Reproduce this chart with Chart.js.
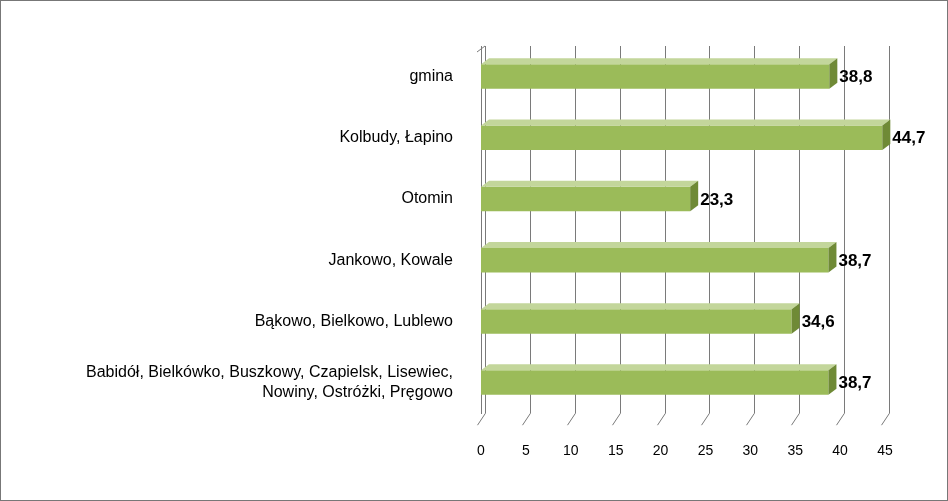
<!DOCTYPE html>
<html><head><meta charset="utf-8">
<script src="https://cdn.jsdelivr.net/npm/chart.js@4"></script>
<style>
body{margin:0;background:#fff}
#wrap{width:946px;height:499px;border:1px solid #777}
</style></head>
<body><div id="wrap"><canvas id="c" width="946" height="499"></canvas></div>
<script>
const labels = ['gmina', 'Kolbudy, Łapino', 'Otomin', 'Jankowo, Kowale', 'Bąkowo, Bielkowo, Lublewo',
  ['Babidół, Bielkówko, Buszkowy, Czapielsk, Lisewiec,', 'Nowiny, Ostróżki, Pręgowo']];
const values = [38.8, 44.7, 23.3, 38.7, 34.6, 38.7];
const shown = ['38,8', '44,7', '23,3', '38,7', '34,6', '38,7'];

const DX = 8, DY = -6;

const threeD = {
  id: 'threeD',
  beforeDatasetsDraw(chart) {
    const {ctx, chartArea: a, scales: {x}} = chart;
    ctx.save();
    ctx.strokeStyle = '#7a7a7a';
    ctx.lineWidth = 1;
    for (let v = 0; v <= 45; v += 5) {
      const px = Math.round(x.getPixelForValue(v)) + 0.5;
      ctx.beginPath();
      ctx.moveTo(px - DX / 2, a.bottom + 12);
      ctx.lineTo(px + DX / 2, a.bottom);
      ctx.lineTo(px + DX / 2, a.top);
      ctx.stroke();
    }
    ctx.beginPath();
    ctx.moveTo(a.left - DX / 2, a.top + 6);
    ctx.lineTo(a.left + DX / 2, a.top);
    ctx.stroke();
    ctx.restore();
  },
  afterDatasetsDraw(chart) {
    const {ctx} = chart;
    const meta = chart.getDatasetMeta(0);
    ctx.save();
    meta.data.forEach((b, i) => {
      const l = b.base, r = b.x, t = b.y - b.height / 2, bt = b.y + b.height / 2;
      ctx.fillStyle = '#c3d69b';
      ctx.beginPath();
      ctx.moveTo(l, t); ctx.lineTo(l + DX, t + DY); ctx.lineTo(r + DX, t + DY); ctx.lineTo(r, t);
      ctx.closePath(); ctx.fill();
      ctx.fillStyle = '#6f8a36';
      ctx.beginPath();
      ctx.moveTo(r, t); ctx.lineTo(r + DX, t + DY); ctx.lineTo(r + DX, bt + DY); ctx.lineTo(r, bt);
      ctx.closePath(); ctx.fill();
      ctx.fillStyle = '#000';
      ctx.font = 'bold 17px Arial, "Liberation Sans"';
      ctx.textBaseline = 'middle';
      ctx.fillText(shown[i], r + DX + 2, b.y + 1);
    });
    ctx.restore();
  }
};

new Chart(document.getElementById('c'), {
  type: 'bar',
  data: {
    labels: labels,
    datasets: [{
      data: values,
      backgroundColor: '#9bbb59',
      barPercentage: 0.4,
      categoryPercentage: 1
    }]
  },
  options: {
    indexAxis: 'y',
    responsive: false,
    animation: false,
    layout: {padding: {top: 45, right: 62, bottom: 18, left: 10}},
    plugins: {legend: {display: false}, tooltip: {enabled: false}},
    scales: {
      x: {
        min: 0, max: 45,
        ticks: {stepSize: 5, color: '#000', font: {size: 14, family: 'Arial, "Liberation Sans"'}, padding: 22},
        grid: {display: false},
        border: {display: false}
      },
      y: {
        afterFit(s) { s.width = 470; },
        ticks: {color: '#000', font: {size: 16, family: 'Arial, "Liberation Sans"'}, padding: 20},
        grid: {display: false},
        border: {display: true, color: '#7a7a7a'}
      }
    }
  },
  plugins: [threeD]
});
</script></body></html>
